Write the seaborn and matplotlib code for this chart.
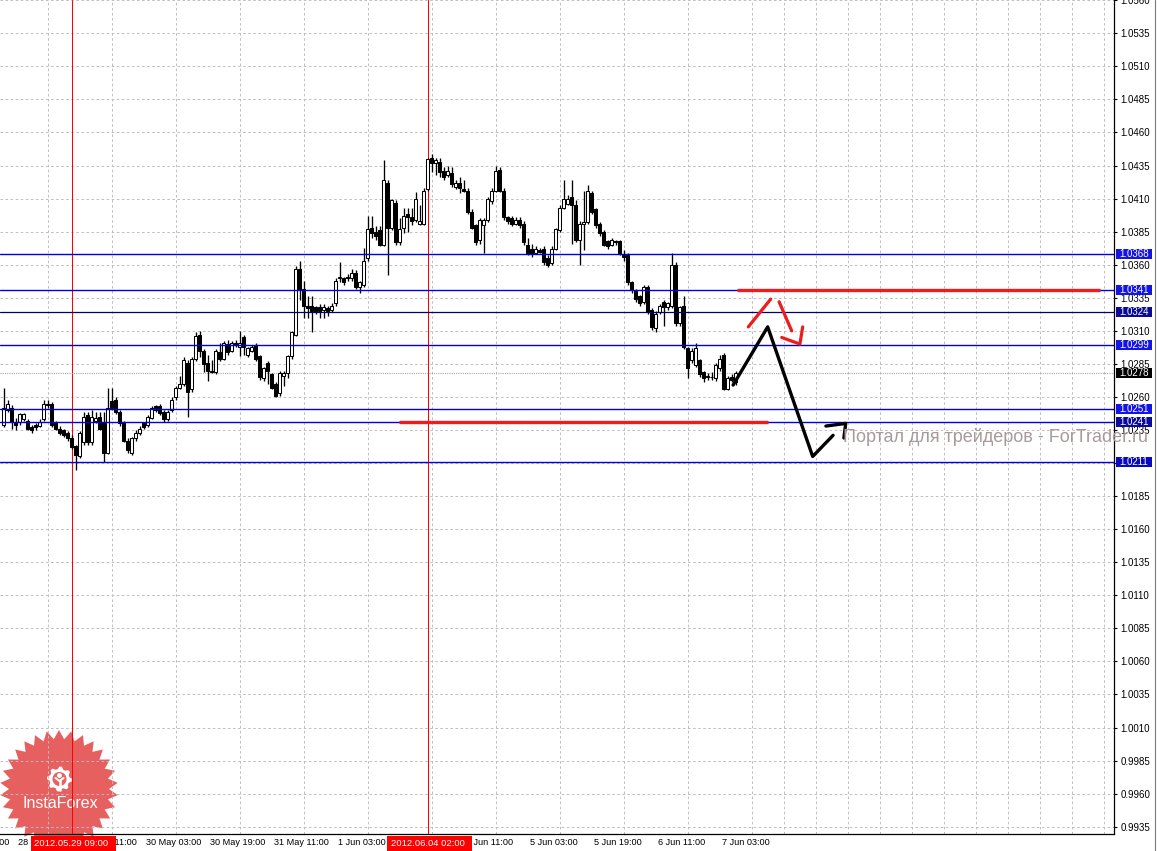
import numpy as np
import pandas as pd
import matplotlib
matplotlib.use("Agg")
import matplotlib.pyplot as plt
import matplotlib.transforms as mtrans
from matplotlib.patches import Rectangle, Polygon, Circle
import seaborn as sns

sns.set_style("white")
plt.rcParams["font.family"] = ["Liberation Sans", "DejaVu Sans"]

# ---------------- data (H1 bars; bar 0 = 28 May 2012 19:00) ----------------
first_bar = -3
opens = [1.0239, 1.0250, 1.0252, 1.0241, 1.0241, 1.0243, 1.0242, 1.0237, 1.0239, 1.0238,
         1.0243, 1.0255, 1.0255, 1.0240, 1.0236, 1.0235, 1.0233, 1.0229, 1.0223, 1.0215,
         1.0226, 1.0246, 1.0226, 1.0242, 1.0245, 1.0241, 1.0218, 1.0257, 1.0258, 1.0249,
         1.0240, 1.0227, 1.0218, 1.0229, 1.0233, 1.0240, 1.0239, 1.0244, 1.0253, 1.0253,
         1.0249, 1.0243, 1.0250, 1.0260, 1.0267, 1.0270, 1.0286, 1.0266, 1.0289, 1.0307,
         1.0295, 1.0286, 1.0280, 1.0279, 1.0294, 1.0289, 1.0300, 1.0295, 1.0301, 1.0298,
         1.0305, 1.0292, 1.0295, 1.0299, 1.0291, 1.0274, 1.0286, 1.0277, 1.0270, 1.0263,
         1.0276, 1.0278, 1.0291, 1.0307, 1.0357, 1.0342, 1.0329, 1.0329, 1.0328, 1.0328,
         1.0326, 1.0327, 1.0326, 1.0331, 1.0350, 1.0350, 1.0350, 1.0350, 1.0354, 1.0343,
         1.0345, 1.0365, 1.0388, 1.0385, 1.0386, 1.0375, 1.0422, 1.0388, 1.0407, 1.0377,
         1.0388, 1.0398, 1.0396, 1.0394, 1.0391, 1.0391, 1.0417, 1.0441, 1.0437, 1.0438,
         1.0431, 1.0428, 1.0429, 1.0419, 1.0422, 1.0417, 1.0416, 1.0400, 1.0390, 1.0379,
         1.0390, 1.0394, 1.0408, 1.0416, 1.0432, 1.0416, 1.0396, 1.0395, 1.0391, 1.0394,
         1.0391, 1.0375, 1.0372, 1.0369, 1.0371, 1.0372, 1.0365, 1.0361, 1.0372, 1.0386,
         1.0403, 1.0406, 1.0411, 1.0405, 1.0379, 1.0391, 1.0392, 1.0414, 1.0402, 1.0391,
         1.0385, 1.0378, 1.0375, 1.0378, 1.0378, 1.0367, 1.0367, 1.0347, 1.0341, 1.0336,
         1.0332, 1.0343, 1.0326, 1.0312, 1.0324, 1.0332, 1.0328, 1.0329, 1.0360, 1.0316,
         1.0329, 1.0297, 1.0288, 1.0284, 1.0288, 1.0279, 1.0275, 1.0275, 1.0274, 1.0282,
         1.0292, 1.0266, 1.0275, 1.0271]
highs = [1.0267, 1.0258, 1.0254, 1.0244, 1.0248, 1.0248, 1.0243, 1.0239, 1.0240, 1.0243,
         1.0258, 1.0258, 1.0256, 1.0242, 1.0238, 1.0236, 1.0234, 1.0231, 1.0224, 1.0234,
         1.0249, 1.0249, 1.0250, 1.0249, 1.0249, 1.0249, 1.0267, 1.0267, 1.0260, 1.0250,
         1.0242, 1.0229, 1.0230, 1.0235, 1.0238, 1.0241, 1.0246, 1.0253, 1.0254, 1.0255,
         1.0250, 1.0250, 1.0260, 1.0268, 1.0276, 1.0290, 1.0288, 1.0290, 1.0309, 1.0310,
         1.0296, 1.0292, 1.0288, 1.0296, 1.0301, 1.0302, 1.0303, 1.0302, 1.0303, 1.0310,
         1.0307, 1.0298, 1.0299, 1.0301, 1.0292, 1.0283, 1.0287, 1.0278, 1.0271, 1.0280,
         1.0280, 1.0292, 1.0310, 1.0359, 1.0363, 1.0348, 1.0336, 1.0336, 1.0329, 1.0330,
         1.0330, 1.0329, 1.0331, 1.0350, 1.0362, 1.0351, 1.0353, 1.0357, 1.0356, 1.0348,
         1.0373, 1.0397, 1.0397, 1.0389, 1.0389, 1.0439, 1.0424, 1.0410, 1.0409, 1.0395,
         1.0403, 1.0403, 1.0403, 1.0415, 1.0405, 1.0418, 1.0441, 1.0444, 1.0441, 1.0441,
         1.0434, 1.0435, 1.0434, 1.0424, 1.0426, 1.0424, 1.0418, 1.0402, 1.0391, 1.0395,
         1.0395, 1.0411, 1.0418, 1.0435, 1.0434, 1.0418, 1.0397, 1.0397, 1.0396, 1.0396,
         1.0393, 1.0380, 1.0376, 1.0374, 1.0373, 1.0374, 1.0367, 1.0374, 1.0388, 1.0405,
         1.0424, 1.0413, 1.0424, 1.0409, 1.0393, 1.0416, 1.0420, 1.0416, 1.0403, 1.0392,
         1.0386, 1.0379, 1.0380, 1.0379, 1.0379, 1.0371, 1.0369, 1.0348, 1.0342, 1.0337,
         1.0345, 1.0345, 1.0327, 1.0325, 1.0330, 1.0333, 1.0332, 1.0369, 1.0362, 1.0329,
         1.0336, 1.0298, 1.0297, 1.0301, 1.0289, 1.0280, 1.0278, 1.0279, 1.0286, 1.0292,
         1.0293, 1.0276, 1.0277, 1.0280]
lows = [1.0237, 1.0249, 1.0236, 1.0235, 1.0239, 1.0242, 1.0235, 1.0233, 1.0235, 1.0237,
        1.0242, 1.0252, 1.0237, 1.0235, 1.0231, 1.0230, 1.0227, 1.0221, 1.0205, 1.0214,
        1.0224, 1.0224, 1.0224, 1.0240, 1.0235, 1.0211, 1.0217, 1.0250, 1.0247, 1.0238,
        1.0226, 1.0218, 1.0216, 1.0227, 1.0231, 1.0236, 1.0237, 1.0243, 1.0249, 1.0246,
        1.0241, 1.0242, 1.0249, 1.0258, 1.0266, 1.0268, 1.0245, 1.0264, 1.0287, 1.0290,
        1.0279, 1.0272, 1.0278, 1.0277, 1.0287, 1.0288, 1.0292, 1.0294, 1.0298, 1.0291,
        1.0292, 1.0290, 1.0294, 1.0287, 1.0273, 1.0272, 1.0270, 1.0266, 1.0260, 1.0261,
        1.0268, 1.0274, 1.0289, 1.0306, 1.0333, 1.0320, 1.0320, 1.0309, 1.0323, 1.0320,
        1.0320, 1.0321, 1.0324, 1.0329, 1.0347, 1.0345, 1.0348, 1.0348, 1.0342, 1.0339,
        1.0343, 1.0363, 1.0380, 1.0379, 1.0374, 1.0374, 1.0352, 1.0386, 1.0375, 1.0375,
        1.0384, 1.0385, 1.0390, 1.0392, 1.0390, 1.0390, 1.0416, 1.0430, 1.0428, 1.0426,
        1.0424, 1.0426, 1.0419, 1.0417, 1.0414, 1.0415, 1.0398, 1.0387, 1.0375, 1.0376,
        1.0369, 1.0392, 1.0406, 1.0415, 1.0415, 1.0394, 1.0391, 1.0389, 1.0390, 1.0388,
        1.0375, 1.0367, 1.0366, 1.0368, 1.0369, 1.0360, 1.0358, 1.0360, 1.0371, 1.0385,
        1.0402, 1.0405, 1.0376, 1.0377, 1.0360, 1.0371, 1.0391, 1.0398, 1.0388, 1.0382,
        1.0374, 1.0372, 1.0374, 1.0375, 1.0367, 1.0363, 1.0345, 1.0339, 1.0332, 1.0329,
        1.0330, 1.0323, 1.0311, 1.0309, 1.0323, 1.0314, 1.0326, 1.0327, 1.0314, 1.0314,
        1.0296, 1.0274, 1.0286, 1.0283, 1.0275, 1.0271, 1.0273, 1.0273, 1.0272, 1.0280,
        1.0265, 1.0265, 1.0271, 1.0269]
closes = [1.0252, 1.0255, 1.0241, 1.0239, 1.0247, 1.0247, 1.0236, 1.0235, 1.0237, 1.0241,
          1.0255, 1.0254, 1.0239, 1.0236, 1.0233, 1.0231, 1.0229, 1.0222, 1.0216, 1.0233,
          1.0245, 1.0226, 1.0245, 1.0244, 1.0236, 1.0218, 1.0252, 1.0252, 1.0249, 1.0240,
          1.0227, 1.0220, 1.0229, 1.0233, 1.0236, 1.0237, 1.0245, 1.0252, 1.0250, 1.0248,
          1.0243, 1.0249, 1.0258, 1.0267, 1.0270, 1.0288, 1.0264, 1.0289, 1.0306, 1.0295,
          1.0285, 1.0280, 1.0279, 1.0295, 1.0289, 1.0301, 1.0294, 1.0301, 1.0299, 1.0301,
          1.0298, 1.0297, 1.0298, 1.0289, 1.0275, 1.0282, 1.0280, 1.0267, 1.0261, 1.0278,
          1.0278, 1.0291, 1.0309, 1.0357, 1.0341, 1.0329, 1.0327, 1.0325, 1.0325, 1.0325,
          1.0328, 1.0325, 1.0329, 1.0348, 1.0351, 1.0347, 1.0351, 1.0354, 1.0343, 1.0347,
          1.0363, 1.0387, 1.0384, 1.0382, 1.0375, 1.0424, 1.0388, 1.0409, 1.0377, 1.0387,
          1.0397, 1.0396, 1.0393, 1.0410, 1.0393, 1.0416, 1.0440, 1.0437, 1.0439, 1.0430,
          1.0426, 1.0431, 1.0421, 1.0422, 1.0418, 1.0416, 1.0400, 1.0388, 1.0377, 1.0394,
          1.0394, 1.0410, 1.0416, 1.0431, 1.0416, 1.0396, 1.0393, 1.0391, 1.0394, 1.0390,
          1.0377, 1.0369, 1.0368, 1.0372, 1.0370, 1.0362, 1.0360, 1.0372, 1.0387, 1.0403,
          1.0410, 1.0410, 1.0405, 1.0379, 1.0391, 1.0392, 1.0416, 1.0400, 1.0390, 1.0384,
          1.0375, 1.0374, 1.0379, 1.0377, 1.0369, 1.0366, 1.0347, 1.0341, 1.0334, 1.0331,
          1.0343, 1.0324, 1.0313, 1.0323, 1.0329, 1.0328, 1.0331, 1.0360, 1.0316, 1.0328,
          1.0298, 1.0282, 1.0295, 1.0297, 1.0277, 1.0274, 1.0276, 1.0275, 1.0284, 1.0289,
          1.0266, 1.0274, 1.0273, 1.0278]

time_labels = ["28 May 03:00", "28 May 19:00", "29 May 11:00", "30 May 03:00", "30 May 19:00",
               "31 May 11:00", "1 Jun 03:00", "1 Jun 19:00", "4 Jun 11:00", "5 Jun 03:00",
               "5 Jun 19:00", "6 Jun 11:00", "7 Jun 03:00"]
time_label_bars = [-16, 0, 16, 32, 48, 64, 80, 96, 112, 128, 144, 160, 176]

cursor_bars = [14, 103]
cursor_texts = ["2012.05.29 09:00", "2012.06.04 02:00"]

blue_levels = [1.0368, 1.0341, 1.0299, 1.0251, 1.0241, 1.0211]
navy_levels = [1.0324]
level_tags = [1.0368, 1.0341, 1.0324, 1.0299, 1.0278, 1.0251, 1.0241, 1.0211]
level_tag_colors = ["#1414E6", "#1414E6", "#0A0A96", "#1414E6", "#000000", "#1414E6", "#0A0A9E", "#0A0AC4"]

# hand drawn scenario (bar index, price)
res_seg_bars, res_seg_price = [180.4, 271.0], 1.0341
sup_seg_bars, sup_seg_price = [95.9, 188.1], 1.0241
path_bars = [179.4, 188.05, 199.3, 204.4]
path_prices = [1.0269, 1.0313, 1.0215, 1.0231]
path_head_bars = [202.6, 207.55, 207.1]
path_head_prices = [1.0238, 1.0240, 1.0229]
alt_up_bars, alt_up_prices = [183.2, 188.8], [1.0313, 1.0334]
alt_dn_bars, alt_dn_prices = [190.9, 194.05], [1.0332, 1.0310]
alt_head_bars, alt_head_prices = [191.55, 196.1, 196.8], [1.0305, 1.0300, 1.0313]

# ---------------- figure ----------------
W, H = 1157, 851
fig = plt.figure(figsize=(W / 100, H / 100), dpi=100, facecolor="white")

ov = fig.add_axes([0, 0, 1, 1])
ov.set_xlim(0, W)
ov.set_ylim(H, 0)
ov.axis("off")
ov.set_zorder(0)

ax = fig.add_axes([0, 17 / H, 1114 / W, 834 / H])
ax.set_zorder(1)
ax.patch.set_visible(False)

for s in ["left", "top"]:
    ax.spines[s].set_visible(False)
for s in ["right", "bottom"]:
    ax.spines[s].set_color("black")
    ax.spines[s].set_linewidth(0.9)

# cursor lines
for b in cursor_bars:
    ax.axvline(b, color="#FF0000", lw=0.75, zorder=2)

# candles
bars = np.arange(first_bar, first_bar + len(opens))
O = np.array(opens); Hh = np.array(highs); L = np.array(lows); C = np.array(closes)
top = np.maximum.reduce([Hh, O, C]); bot = np.minimum.reduce([L, O, C])
ax.vlines(bars, bot, top, color="black", lw=0.95, zorder=3)
up = C >= O
body_h = np.maximum(np.abs(C - O), 0.00002)
ax.bar(bars, body_h, bottom=np.minimum(O, C), width=0.65,
       color=np.where(up, "white", "black"), edgecolor="black", linewidth=0.75, zorder=4)

# current price line
ax.axhline(closes[-1], color="#A8A8A8", lw=0.8, linestyle=(0, (1, 1)), zorder=2)

# levels
for lv in blue_levels:
    ax.axhline(lv, color="#0000E0", lw=1.0, zorder=5)
for lv in navy_levels:
    ax.axhline(lv, color="#00006E", lw=0.9, zorder=5)

red = "#EE1C1C"
ax.plot(res_seg_bars, [res_seg_price] * 2, color=red, lw=2.4, solid_capstyle="butt", zorder=6)
ax.plot(sup_seg_bars, [sup_seg_price] * 2, color=red, lw=2.4, solid_capstyle="butt", zorder=6)

path_df = pd.DataFrame({"bar": path_bars, "price": path_prices})
sns.lineplot(data=path_df, x="bar", y="price", ax=ax, color="black", lw=2.4,
             sort=False, estimator=None, zorder=7)
ax.plot(path_head_bars, path_head_prices, color="black", lw=2.4, zorder=7)
ax.plot(alt_up_bars, alt_up_prices, color=red, lw=2.3, zorder=7)
ax.plot(alt_dn_bars, alt_dn_prices, color=red, lw=2.3, zorder=7)
ax.plot(alt_head_bars, alt_head_prices, color=red, lw=2.3, zorder=7)
ax.set_xlabel(""); ax.set_ylabel("")

# ticks and grid
ax.set_xticks(time_label_bars)
ax.set_xticks(np.arange(-16, 275, 8), minor=True)
ax.set_xticklabels([])
ax.tick_params(axis="x", which="major", direction="out", length=4, width=0.8, color="black")
ax.tick_params(axis="x", which="minor", length=0)
yt = np.round(np.arange(0.9935, 1.05605, 0.0025), 4)
ax.set_yticks(yt)
ax.set_yticklabels([f"{v:.4f}" for v in yt])
ax.yaxis.tick_right()
ax.tick_params(axis="y", direction="out", length=2.5, width=0.8, pad=2.2, labelsize=7,
               labelcolor="black", color="black")
ax.grid(True, which="minor", axis="x", color="#BDBDBD", linestyle=(0, (2.6, 2.6)), linewidth=0.7)
ax.grid(True, which="major", axis="y", color="#C4B8C4", linestyle=(0, (2.6, 2.6)), linewidth=0.7)
ax.set_axisbelow(True)

# fixed view (after ticks so nothing expands it)
ax.set_xlim(-3.875, 274.625)
ax.set_ylim(0.99295, 1.05602)

# price tags on the right axis
bt = mtrans.blended_transform_factory(ax.transAxes, ax.transData)
tag_h = 10 / 13223
for lv, col in zip(level_tags, level_tag_colors):
    ax.add_patch(Rectangle((1116 / 1114, lv - tag_h / 2), 36 / 1114, tag_h, transform=bt,
                           facecolor=col, edgecolor="none", clip_on=False, zorder=10))
    ax.text(1119.5 / 1114, lv, f"{lv:.4f}", transform=bt, color="white", fontsize=7,
            ha="left", va="center", clip_on=False, zorder=11)

# time labels
bx = mtrans.blended_transform_factory(ax.transData, ax.transAxes)
for b, t in zip(time_label_bars, time_labels):
    ax.text(b + 0.5, -4 / 834, t, transform=bx, fontsize=6.6, color="black",
            ha="left", va="top", clip_on=False, zorder=9)
for b, t in zip(cursor_bars, cursor_texts):
    ax.add_patch(Rectangle((b - 10.2, -17 / 834), 21.2, 15 / 834, transform=bx,
                           facecolor="#FF0000", edgecolor="none", clip_on=False, zorder=12))
    ax.text(b, -9.5 / 834, t, transform=bx, fontsize=6.8, color="white", ha="center",
            va="center", clip_on=False, zorder=13)

# watermark
fig.text(843 / W, 1 - 437 / H, "Портал для трейдеров - ForTrader.ru", color="#A89A9A",
         fontsize=13, ha="left", va="center", family=["Liberation Sans", "DejaVu Sans"], zorder=8)

# InstaForex badge (pixel space)
cx, cy, r_out, r_in, n = 59, 789, 59, 50, 30
ang = np.linspace(0, 2 * np.pi, 2 * n, endpoint=False) + np.pi / 2
rad = np.where(np.arange(2 * n) % 2 == 0, r_out, r_in)
ov.add_patch(Polygon(np.c_[cx + rad * np.cos(ang), cy - rad * np.sin(ang)], closed=True,
                     facecolor="#E23838", edgecolor="none", alpha=0.8, zorder=1))
gx, gy = 59.5, 779
ga = np.linspace(0, 2 * np.pi, 32, endpoint=False)
gr = np.where((np.arange(32) // 2) % 2 == 0, 12.5, 10)
ov.add_patch(Polygon(np.c_[gx + gr * np.cos(ga), gy + gr * np.sin(ga)], closed=True,
                     facecolor="white", edgecolor="none", zorder=2))
ov.add_patch(Circle((gx, gy), 7, facecolor="#E86060", edgecolor="none", zorder=3))
ov.add_patch(Circle((gx, gy - 3.5), 2.4, facecolor="white", edgecolor="none", zorder=4))
ov.plot([gx - 4, gx, gx + 4], [gy - 1, gy + 2, gy - 1], color="white", lw=1.5, zorder=4)
ov.plot([gx, gx], [gy + 1, gy + 11], color="white", lw=1.8, zorder=4)
ov.text(60, 803, "InstaForex", color="white", fontsize=11.5, ha="center", va="center", zorder=5)

# window edge on the right
ov.plot([1154.5, 1154.5], [0, H], color="#7A7A7A", lw=0.8, zorder=1)

fig.savefig("out.png", dpi=100, facecolor="white")
